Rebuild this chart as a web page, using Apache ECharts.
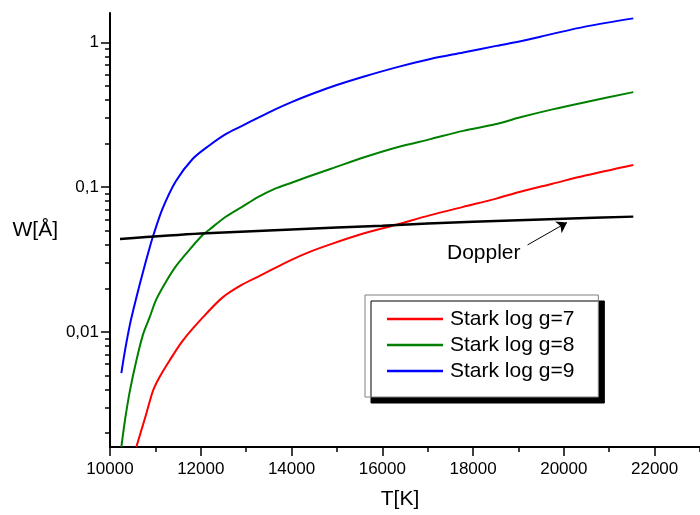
<!DOCTYPE html>
<html><head><meta charset="utf-8">
<script src="https://cdn.jsdelivr.net/npm/echarts@6/dist/echarts.min.js"></script>
<style>html,body{margin:0;padding:0;background:#fff}#c{width:700px;height:515px}</style>
</head><body><div id="c"></div>
<script>
// ---- data ----
const tempG7 = [10580,10800,10950,11090,11310,11600,12040,12470,12910,13350,13860,14360,14870,15600,16330,17060,17780,18510,19020,19750,20470,21530];
const widthG7 = [0.0016,0.00272,0.00394,0.00486,0.00632,0.00867,0.01253,0.01718,0.02118,0.02483,0.0300,0.0353,0.0404,0.048,0.0553,0.0641,0.0731,0.0834,0.0927,0.1057,0.1205,0.1426];

const tempG8 = [10250,10330,10440,10580,10730,10870,11020,11240,11450,11750,12040,12180,12550,12910,13270,13640,14000,14360,14870,15600,16330,17060,17780,18510,19020,19750,20470,21530];
const widthG8 = [0.0016,0.00245,0.00394,0.00632,0.00964,0.01253,0.01675,0.02239,0.02838,0.0369,0.04667,0.0506,0.0625,0.0731,0.0857,0.0977,0.1074,0.118,0.134,0.161,0.189,0.215,0.245,0.273,0.303,0.345,0.387,0.454];

const tempG9 = [10250,10330,10440,10580,10730,10870,10950,11160,11450,11820,12180,12550,12910,13270,13640,14000,14360,14870,15600,16330,17060,17780,18510,19020,19750,20470,21530];
const widthG9 = [0.00518,0.00741,0.01127,0.01718,0.02618,0.03784,0.0460,0.0713,0.1100,0.1567,0.1936,0.2328,0.2655,0.3027,0.3451,0.3873,0.4305,0.493,0.582,0.676,0.7691,0.8531,0.9484,1.016,1.148,1.288,1.469];

const tempDoppler = [10220,12000,14000,16000,18000,20000,21530];
const widthDoppler = [0.0439,0.0478,0.0510,0.0542,0.0578,0.0605,0.0626];

const seriesNames = ['Stark log g=7','Stark log g=8','Stark log g=9','Doppler'];
const xTickValues = [10000,12000,14000,16000,18000,20000,22000];
const yTickValues = [0.01,0.1,1];
const yMinorTickValues = [0.002,0.003,0.004,0.005,0.006,0.007,0.008,0.009,0.02,0.03,0.04,0.05,0.06,0.07,0.08,0.09,0.2,0.3,0.4,0.5,0.6,0.7,0.8,0.9];
const arrowTail = [19200, 0.0399];
const arrowHead = [20070, 0.0571];

// ---- chart ----
const FONT = 'Arial, "Liberation Sans", Helvetica, sans-serif';
const pair = (xs, ys) => xs.map((x, i) => [x, ys[i]]);
const chart = echarts.init(document.getElementById('c'), null, {renderer: 'canvas'});
const axisCommon = {
  splitLine: {show: false},
  axisLine: {show: true, lineStyle: {color: '#000', width: 2}},
};
function curve(name, xs, ys, color, width) {
  return {name: name, type: 'line', data: pair(xs, ys), showSymbol: false, symbol: 'none', clip: true,
    smooth: 0.3,
    lineStyle: {color: color, width: width}, itemStyle: {color: color}, xAxisIndex: 0, yAxisIndex: 0};
}
const doppler = curve(seriesNames[3], tempDoppler, widthDoppler, '#000', 2.5);
doppler.markLine = {silent: true, symbol: ['none', 'arrow'], symbolSize: 10,
  lineStyle: {color: '#000', width: 1, type: 'solid'}, label: {show: false},
  data: [[{coord: arrowTail}, {coord: arrowHead}]]};

const option = {
  animation: false,
  backgroundColor: '#fff',
  grid: {left: 110, right: -6, top: 13, bottom: 64, containLabel: false},
  xAxis: [
    Object.assign({}, axisCommon, {
      type: 'value', min: 10000, max: 23000, interval: 2000, position: 'bottom',
      axisTick: {show: true, inside: false, length: 9, lineStyle: {color: '#000', width: 1.5}},
      axisLabel: {showMaxLabel: false, fontSize: 17, color: '#000', margin: 14, fontFamily: FONT,
        formatter: v => xTickValues.includes(v) ? String(v) : ''},
      name: 'T[K]', nameLocation: 'middle', nameGap: 42,
      nameTextStyle: {fontSize: 21, color: '#000', fontFamily: FONT, padding: [0, 10, 0, 0]}
    }),
    {
      type: 'value', min: 10000, max: 23000, interval: 1000, position: 'bottom',
      splitLine: {show: false}, axisLine: {show: false},
      axisTick: {show: true, length: 5, lineStyle: {color: '#000', width: 1.5}},
      axisLabel: {show: false}
    }
  ],
  yAxis: [
    Object.assign({}, axisCommon, {
      type: 'log', logBase: 10, min: 0.0016, max: 1.6, position: 'left',
      axisTick: {show: true, length: 9, customValues: yTickValues, lineStyle: {color: '#000', width: 1.5}},
      axisLabel: {customValues: yTickValues, fontSize: 17, color: '#000', margin: 11, fontFamily: FONT,
        formatter: v => String(+v.toPrecision(6)).replace('.', ',')},
      name: 'W[Å]', nameLocation: 'middle', nameRotate: 0, nameGap: 52,
      nameTextStyle: {fontSize: 21, color: '#000', fontFamily: FONT}
    }),
    {
      type: 'log', logBase: 10, min: 0.0016, max: 1.6, position: 'left',
      splitLine: {show: false}, axisLine: {show: false},
      axisTick: {show: true, length: 5, customValues: yMinorTickValues, lineStyle: {color: '#000', width: 1.5}},
      axisLabel: {show: false}
    }
  ],
  legend: {
    orient: 'vertical', left: 365, top: 295,
    data: seriesNames.slice(0, 3),
    icon: 'rect',
    itemWidth: 56, itemHeight: 2.5, itemGap: 4,
    padding: [13, 24, 15, 22],
    backgroundColor: '#fff', borderColor: '#808080', borderWidth: 1, borderRadius: 0,
    shadowColor: '#000', shadowBlur: 0, shadowOffsetX: 6, shadowOffsetY: 6,
    textStyle: {fontSize: 21, lineHeight: 22, color: '#000', fontFamily: FONT, padding: [0, 0, 0, 2]}
  },
  graphic: [
    {type: 'text', left: 447, top: 243, style: {text: 'Doppler', fontSize: 21, fill: '#000', fontFamily: FONT}}
  ],
  series: [
    curve(seriesNames[0], tempG7, widthG7, '#ff0000', 2),
    curve(seriesNames[1], tempG8, widthG8, '#008000', 2),
    curve(seriesNames[2], tempG9, widthG9, '#0000ff', 2),
    doppler
  ]
};
chart.setOption(option);
</script>
</body></html>
